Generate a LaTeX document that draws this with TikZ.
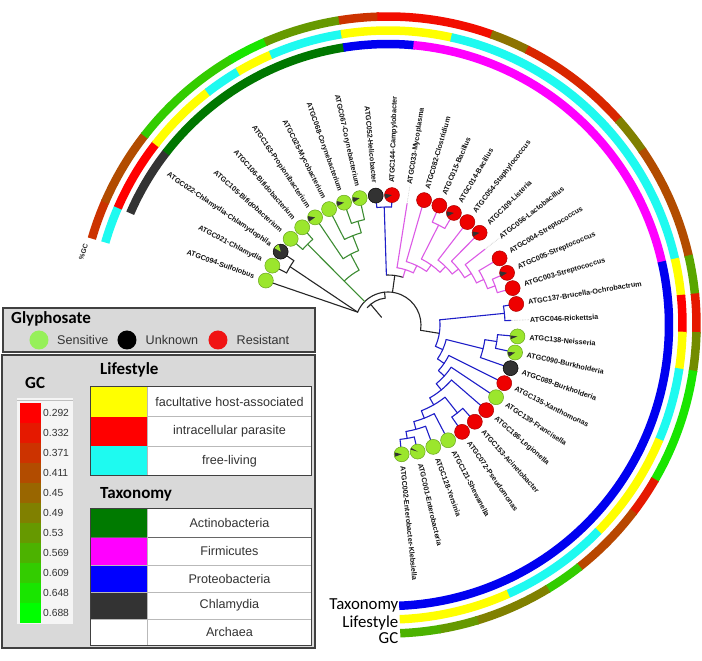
\documentclass[tikz,border=0pt]{standalone}
\usepackage{fontspec}
\setmainfont{Liberation Sans}
\newfontfamily\carlito{Carlito}
\definecolor{taxact}{RGB}{0,119,0}
\definecolor{taxfirm}{RGB}{255,0,255}
\definecolor{taxpro}{RGB}{0,0,240}
\definecolor{taxchl}{RGB}{51,51,51}
\definecolor{lsy}{RGB}{255,255,0}
\definecolor{lsr}{RGB}{255,0,0}
\definecolor{lsc}{RGB}{30,250,240}
\definecolor{brgreen}{RGB}{60,140,50}
\definecolor{brmag}{RGB}{220,90,230}
\definecolor{brblue}{RGB}{30,30,200}
\definecolor{csens}{RGB}{155,230,45}
\definecolor{csensd}{RGB}{105,165,30}
\definecolor{cunk}{RGB}{50,50,50}
\definecolor{cres}{RGB}{238,0,0}
\definecolor{cresd}{RGB}{170,0,0}
\definecolor{legbg}{RGB}{217,217,217}
\definecolor{lgreen}{RGB}{150,240,90}
\definecolor{lred}{RGB}{240,20,20}
\definecolor{legact}{RGB}{0,122,0}
\newcommand\ringseg[4]{%
  \pgfmathsetmacro\rsA{160-(#2-1)*7.176+3.588+0.15}%
  \pgfmathsetmacro\rsB{160-(#3-1)*7.176-3.588-0.15}%
  \draw[line width=8.5pt,#4] (\rsA:#1pt) arc[start angle=\rsA,end angle=\rsB,radius=#1pt];}
\newcommand\trad[4]{\draw[#1] (#2:#3pt) -- (#2:#4pt);}
\newcommand\tarc[4]{\draw[#1] (#2:#4pt) arc[start angle=#2,end angle=#3,radius=#4pt];}
\newcommand\leafc[3]{\node[circle,inner sep=0pt,minimum size=15pt,#2] (#3) at (#1:130pt) {};}
\newcommand\pwedge[4]{\fill[#4] (#1:130pt) -- ++(#2:7.2pt) arc[start angle=#2,end angle=#3,radius=7.2pt] -- cycle;}
\newcommand\labR[3]{\node[lab,anchor=west,rotate=#1] (#3) at (#1:142pt) {#2};}
\newcommand\labL[3]{\node[lab,anchor=east,rotate=#1-180] (#3) at (#1:142pt) {#2};}
\begin{document}
\begin{tikzpicture}[x=1pt,y=1pt,
  lab/.style={font=\fontsize{7.2}{8}\selectfont\bfseries,inner sep=0pt,text=black!92},
  bk/.style={draw=black!85,line width=1.1pt,line cap=round},
  gr/.style={draw=brgreen,line width=1.1pt,line cap=round},
  mg/.style={draw=brmag,line width=1.1pt,line cap=round},
  bl/.style={draw=brblue,line width=1.1pt,line cap=round},
  sens/.style={fill=csens,draw=csensd,line width=0.5pt},
  unk/.style={fill=cunk,draw=black,line width=0.5pt},
  res/.style={fill=cres,draw=cresd,line width=0.5pt},
  legtxt/.style={font=\fontsize{12.6}{14}\selectfont,text=black!80,inner sep=0pt},
  legttl/.style={font=\carlito\bfseries\fontsize{17}{19}\selectfont,inner sep=0pt},
  dots/.style={densely dotted,draw=gray!55,line width=0.6pt}]
\fill[white] (-388,-336) rectangle (314,325);
\useasboundingbox (-388,-336) rectangle (314,325);
% ---------------- rings
\ringseg{281}{2}{3}{taxchl}
\ringseg{281}{4}{9}{taxact}
\ringseg{281}{10}{11}{taxpro}
\ringseg{281}{12}{21}{taxfirm}
\ringseg{281}{22}{35}{taxpro}
\ringseg{294.5}{1}{1}{lsc}
\ringseg{294.5}{2}{3}{lsr}
\ringseg{294.5}{4}{5}{lsy}
\ringseg{294.5}{6}{6}{lsc}
\ringseg{294.5}{7}{7}{lsy}
\ringseg{294.5}{8}{9}{lsc}
\ringseg{294.5}{10}{12}{lsy}
\ringseg{294.5}{13}{21}{lsc}
\ringseg{294.5}{22}{22}{lsy}
\ringseg{294.5}{23}{23}{lsr}
\ringseg{294.5}{24}{24}{lsy}
\ringseg{294.5}{25}{26}{lsc}
\ringseg{294.5}{27}{29}{lsy}
\ringseg{294.5}{30}{32}{lsc}
\ringseg{294.5}{33}{35}{lsy}
\ringseg{308.5}{1}{1}{green!20!red}
\ringseg{308.5}{2}{3}{green!30!red}
\ringseg{308.5}{4}{6}{green!80!red}
\ringseg{308.5}{7}{7}{green!90!red}
\ringseg{308.5}{8}{9}{green!60!red}
\ringseg{308.5}{10}{10}{green!20!red}
\ringseg{308.5}{11}{13}{green!5!red}
\ringseg{308.5}{14}{14}{green!45!red}
\ringseg{308.5}{15}{17}{green!15!red}
\ringseg{308.5}{18}{18}{green!50!red}
\ringseg{308.5}{19}{21}{green!30!red}
\ringseg{308.5}{22}{22}{green!65!red}
\ringseg{308.5}{23}{23}{green!10!red}
\ringseg{308.5}{24}{24}{green!55!red}
\ringseg{308.5}{25}{27}{green!90!red}
\ringseg{308.5}{28}{28}{green!10!red}
\ringseg{308.5}{29}{30}{green!28!red}
\ringseg{308.5}{31}{31}{green!80!red}
\ringseg{308.5}{32}{33}{green!50!red}
\ringseg{308.5}{34}{34}{green!60!red}
\ringseg{308.5}{35}{35}{green!70!red}
\node[font=\bfseries\fontsize{6.8}{7}\selectfont,rotate=72,inner sep=0pt,text=black!85] (pgc) at (-304.5,73) {\%GC};
% ---------------- tree: root
\tarc{bk}{157}{-9.24}{33}
\tarc{bk}{140}{96}{27}
\trad{bk}{96}{27}{33}
\trad{bk}{130}{10}{27}
\draw[bk] (157:33pt) -- (160:123pt);
\draw[bk] (157:33pt) -- (149.236:114pt);
\tarc{bk}{152.824}{145.648}{114}
\trad{bk}{152.824}{114}{123}
\trad{bk}{145.648}{114}{123}
% Actinobacteria
\trad{gr}{134.884}{33}{62}
\tarc{gr}{134.884}{117.84}{62}
\trad{gr}{134.884}{62}{114}
\tarc{gr}{138.472}{131.296}{114}
\trad{gr}{138.472}{114}{123}
\trad{gr}{131.296}{114}{123}
\trad{gr}{117.84}{62}{80}
\tarc{gr}{124.12}{111.56}{80}
\trad{gr}{124.12}{80}{123}
\trad{gr}{111.56}{80}{96}
\tarc{gr}{116.944}{106.18}{96}
\trad{gr}{116.944}{96}{123}
\trad{gr}{106.18}{96}{108}
\tarc{gr}{109.768}{102.592}{108}
\trad{gr}{109.768}{108}{123}
\trad{gr}{102.592}{108}{123}
% Epsilon + Firmicutes
\trad{bk}{82.2}{33}{50}
\tarc{bk}{91.828}{72.57}{50}
\trad{bl}{91.828}{50}{118}
\tarc{bl}{95.416}{88.24}{118}
\trad{bl}{95.416}{118}{123}
\trad{bl}{88.24}{118}{123}
\trad{mg}{72.57}{50}{58}
\tarc{mg}{81.064}{64.08}{58}
\trad{mg}{81.064}{58}{123}
\trad{mg}{64.08}{58}{66}
\tarc{mg}{73.888}{54.27}{66}
\trad{mg}{73.888}{66}{123}
\trad{mg}{54.27}{66}{74}
\tarc{mg}{63.124}{45.41}{74}
\trad{mg}{63.124}{74}{112}
\tarc{mg}{66.712}{59.536}{112}
\trad{mg}{66.712}{112}{123}
\trad{mg}{59.536}{112}{123}
\trad{mg}{45.41}{74}{82}
\tarc{mg}{52.36}{38.457}{82}
\trad{mg}{52.36}{82}{123}
\trad{mg}{38.457}{82}{90}
\tarc{mg}{45.184}{31.73}{90}
\trad{mg}{45.184}{90}{123}
\trad{mg}{31.73}{90}{98}
\tarc{mg}{38.008}{25.45}{98}
\trad{mg}{38.008}{98}{123}
\trad{mg}{25.45}{98}{106}
\tarc{mg}{30.832}{20.068}{106}
\trad{mg}{30.832}{106}{123}
\trad{mg}{20.068}{106}{114}
\tarc{mg}{23.656}{16.48}{114}
\trad{mg}{23.656}{114}{123}
\trad{mg}{16.48}{114}{123}
% Proteobacteria
\trad{bk}{-9.24}{33}{52}
\tarc{bl}{5.716}{-24.19}{52}
\trad{bl}{5.716}{52}{117}
\tarc{bl}{9.304}{2.128}{117}
\trad{bl}{9.304}{117}{123}
\trad{bl}{2.128}{117}{123}
\trad{bl}{-24.19}{52}{60}
\tarc{bl}{-14.018}{-34.37}{60}
\trad{bl}{-14.018}{60}{98}
\tarc{bl}{-8.636}{-19.4}{98}
\trad{bl}{-8.636}{98}{110}
\tarc{bl}{-5.048}{-12.224}{110}
\trad{bl}{-5.048}{110}{123}
\trad{bl}{-12.224}{110}{123}
\trad{bl}{-19.4}{98}{123}
\trad{bl}{-34.37}{60}{68}
\tarc{bl}{-26.576}{-42.16}{68}
\trad{bl}{-26.576}{68}{123}
\trad{bl}{-42.16}{68}{76}
\tarc{bl}{-33.752}{-50.57}{76}
\trad{bl}{-33.752}{76}{123}
\trad{bl}{-50.57}{76}{84}
\tarc{bl}{-40.928}{-60.21}{84}
\trad{bl}{-40.928}{84}{123}
\trad{bl}{-60.21}{84}{92}
\tarc{bl}{-51.692}{-68.735}{92}
\trad{bl}{-51.692}{92}{112}
\tarc{bl}{-48.104}{-55.28}{112}
\trad{bl}{-48.104}{112}{123}
\trad{bl}{-55.28}{112}{123}
\trad{bl}{-68.735}{92}{100}
\tarc{bl}{-62.456}{-75.014}{100}
\trad{bl}{-62.456}{100}{123}
\trad{bl}{-75.014}{100}{108}
\tarc{bl}{-69.632}{-80.396}{108}
\trad{bl}{-69.632}{108}{123}
\trad{bl}{-80.396}{108}{115}
\tarc{bl}{-76.808}{-83.984}{115}
\trad{bl}{-76.808}{115}{123}
\trad{bl}{-83.984}{115}{123}
% dotted extensions (no circle)
\trad{dots}{81.064}{123}{141}
\trad{dots}{38.008}{123}{141}
\trad{dots}{2.128}{123}{141}
% ---------------- leaf circles
\leafc{160}{sens}{c1}
\leafc{152.824}{sens}{c2}
\leafc{145.648}{unk}{c3}
\leafc{138.472}{sens}{c4}
\leafc{131.296}{sens}{c5}
\leafc{124.12}{sens}{c6}
\leafc{116.944}{sens}{c7}
\leafc{109.768}{sens}{c8}
\leafc{102.592}{sens}{c9}
\leafc{95.416}{unk}{c10}
\leafc{88.24}{res}{c11}
\leafc{73.888}{res}{c13}
\leafc{66.712}{res}{c14}
\leafc{59.536}{res}{c15}
\leafc{52.36}{res}{c16}
\leafc{45.184}{res}{c17}
\leafc{30.832}{res}{c19}
\leafc{23.656}{res}{c20}
\leafc{16.48}{res}{c21}
\leafc{9.304}{res}{c22}
\leafc{-5.048}{sens}{c24}
\leafc{-12.224}{sens}{c25}
\leafc{-19.4}{unk}{c26}
\leafc{-26.576}{res}{c27}
\leafc{-33.752}{sens}{c28}
\leafc{-40.928}{res}{c29}
\leafc{-48.104}{res}{c30}
\leafc{-55.28}{res}{c31}
\leafc{-62.456}{sens}{c32}
\leafc{-69.632}{sens}{c33}
\leafc{-76.808}{sens}{c34}
\leafc{-83.984}{sens}{c35}
\pwedge{145.648}{105}{150}{csens}
\pwedge{124.12}{170}{215}{cunk}
\pwedge{109.768}{168}{208}{cunk}
\pwedge{102.592}{172}{215}{cunk}
\pwedge{88.24}{170}{210}{cunk}
\pwedge{59.536}{168}{208}{cunk}
\pwedge{45.184}{170}{210}{cunk}
\pwedge{23.656}{168}{212}{cunk}
\pwedge{-5.048}{172}{202}{cunk}
\pwedge{-12.224}{175}{215}{cunk}
\pwedge{-76.808}{150}{165}{cunk}
\pwedge{-83.984}{165}{200}{cunk}
% ---------------- leaf labels
\labL{160}{ATGC094-Sulfolobus}{l1}
\labL{152.824}{ATGC021-Chlamydia}{l2}
\labL{145.648}{ATGC022-Chlamydia-Chlamydophila}{l3}
\labL{138.472}{ATGC105-Bifidobacterium}{l4}
\labL{131.296}{ATGC106-Bifidobacterium}{l5}
\labL{124.12}{ATGC163-Propionibacterium}{l6}
\labL{116.944}{ATGC025-Mycobacterium}{l7}
\labL{109.768}{ATGC068-Corynebacterium}{l8}
\labL{102.592}{ATGC067-Corynebacterium}{l9}
\labL{95.416}{ATGC052-Helicobacter}{l10}
\labR{88.24}{ATGC144-Campylobacter}{l11}
\labR{81.064}{ATGC033-Mycoplasma}{l12}
\labR{73.888}{ATGC082-Clostridium}{l13}
\labR{66.712}{ATGC015-Bacillus}{l14}
\labR{59.536}{ATGC014-Bacillus}{l15}
\labR{52.36}{ATGC054-Staphylococcus}{l16}
\labR{45.184}{ATGC109-Listeria}{l17}
\labR{38.008}{ATGC056-Lactobacillus}{l18}
\labR{30.832}{ATGC004-Streptococcus}{l19}
\labR{23.656}{ATGC005-Streptococcus}{l20}
\labR{16.48}{ATGC003-Streptococcus}{l21}
\labR{9.304}{ATGC137-Brucella-Ochrobactrum}{l22}
\labR{2.128}{ATGC046-Rickettsia}{l23}
\labR{-5.048}{ATGC138-Neisseria}{l24}
\labR{-12.224}{ATGC090-Burkholderia}{l25}
\labR{-19.4}{ATGC089-Burkholderia}{l26}
\labR{-26.576}{ATGC135-Xanthomonas}{l27}
\labR{-33.752}{ATGC139-Francisella}{l28}
\labR{-40.928}{ATGC186-Legionella}{l29}
\labR{-48.104}{ATGC153-Acinetobacter}{l30}
\labR{-55.28}{ATGC072-Pseudomonas}{l31}
\labR{-62.456}{ATGC121-Shewanella}{l32}
\labR{-69.632}{ATGC128-Yersinia}{l33}
\labR{-76.808}{ATGC001-Enterobacteria}{l34}
\labR{-83.984}{ATGC002-Enterobacter-Klebsiella}{l35}
% ---------------- legends (image coordinates)
\begin{scope}[shift={(-388pt,325pt)},x=1pt,y=-1pt]
\draw[fill=legbg,draw=black!75,line width=1.1pt] (3,308) rectangle (315,352);
\node[legttl,anchor=base west] (gtitle) at (11,323.5) {Glyphosate};
\node[circle,fill=lgreen,minimum size=19pt,inner sep=0pt] (gsen) at (39,340) {};
\node[circle,fill=black,minimum size=19pt,inner sep=0pt] (gunk) at (127,340) {};
\node[circle,fill=lred,minimum size=19pt,inner sep=0pt] (gres) at (218,340) {};
\node[legtxt,anchor=west] (tsen) at (57,340) {Sensitive};
\node[legtxt,anchor=west] (tunk) at (145.5,340) {Unknown};
\node[legtxt,anchor=west] (tres) at (236.5,340) {Resistant};
\draw[fill=legbg,draw=black!75,line width=1.1pt] (2,355) rectangle (315,648);
\node[legttl,anchor=base west] (gct) at (25,388.5) {GC};
\fill[black!4] (17,398) rectangle (73,624);
\draw[gray!50,line width=0.6pt] (17,400.5) -- (73,400.5);
\foreach \k/\v in {0/0.292,1/0.332,2/0.371,3/0.411,4/0.45,5/0.49,6/0.53,7/0.569,8/0.609,9/0.648,10/0.688}{
  \pgfmathtruncatemacro\pc{10*\k}
  \fill[green!\pc!red] (20,{403+20*\k}) rectangle (41,{423.3+20*\k});
  \node[anchor=west,inner sep=0pt,font=\fontsize{10.3}{12}\selectfont,text=black!80] (gcl\k) at (43,{413+20*\k}) {\v};
}
\node[legttl,anchor=base west] (lst) at (100,375) {Lifestyle};
\fill[white] (91,387) rectangle (312,476);
\fill[lsy] (91,387) rectangle (147,416.7);
\fill[lsr] (91,416.7) rectangle (147,446.3);
\fill[lsc] (91,446.3) rectangle (147,476);
\draw[gray!55,line width=0.6pt] (147,416.7) -- (312,416.7) (147,446.3) -- (312,446.3) (147,387) -- (147,476);
\draw[black!75,line width=1pt] (91,387) rectangle (312,476);
\node[legtxt] (lsa) at (229.5,401.8) {facultative host-associated};
\node[legtxt] (lsb) at (229.5,431.5) {intracellular parasite};
\node[legtxt] (lsd) at (229.5,461.2) {free-living};
\node[legttl,anchor=base west] (txt) at (100,499) {Taxonomy};
\fill[white] (91,508.3) rectangle (312,645.7);
\fill[legact] (91,508.3) rectangle (147,537.7);
\fill[taxfirm] (91,537.7) rectangle (147,565);
\fill[blue] (91,565) rectangle (147,592.3);
\fill[taxchl] (91,592.3) rectangle (147,619);
\draw[black!60,line width=0.8pt] (91,537.7) -- (312,537.7);
\draw[gray!55,line width=0.6pt] (91,565) -- (312,565) (91,592.3) -- (312,592.3) (91,619) -- (312,619) (147,508.3) -- (147,645.7);
\draw[black!75,line width=1pt] (91,508.3) rectangle (312,645.7);
\node[legtxt] (txa) at (229.5,523) {Actinobacteria};
\node[legtxt] (txb) at (229.5,551.3) {Firmicutes};
\node[legtxt] (txc) at (229.5,578.6) {Proteobacteria};
\node[legtxt] (txd) at (229.5,605.6) {Chlamydia};
\node[legtxt] (txe) at (229.5,632.3) {Archaea};
\node[anchor=base east,inner sep=0pt,font=\carlito\fontsize{16.8}{18}\selectfont] (rtax) at (398.5,609.5) {Taxonomy};
\node[anchor=base east,inner sep=0pt,font=\carlito\fontsize{16.8}{18}\selectfont] (rlif) at (398.5,627) {Lifestyle};
\node[anchor=base east,inner sep=0pt,font=\carlito\fontsize{16.8}{18}\selectfont] (rgc) at (398.5,643) {GC};
\end{scope}
\end{tikzpicture}
\end{document}
